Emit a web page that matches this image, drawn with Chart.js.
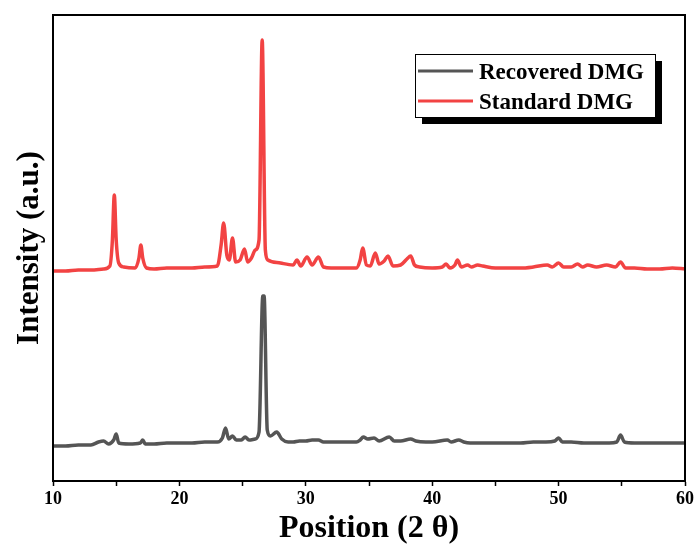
<!DOCTYPE html>
<html>
<head>
<meta charset="utf-8">
<script src="https://cdn.jsdelivr.net/npm/chart.js@4/dist/chart.umd.min.js"></script>
<style>
  html, body { margin: 0; padding: 0; background: #fff; }
  #wrap { width: 697px; height: 548px; }
</style>
</head>
<body>
<div id="wrap"><canvas id="xrd"></canvas></div>
<script>
// XRD patterns, 2θ in degrees vs. intensity (arbitrary units, offset stacked)
const recoveredX = [10, 11, 12, 13, 13.6, 14.0, 14.4, 14.8, 15.0, 15.2, 16, 16.9, 17.1, 17.3, 18, 19, 20, 21, 22, 23,
  23.4, 23.65, 23.9, 24.2, 24.5, 24.9, 25.2, 25.5, 26.0, 26.3, 26.6, 26.7, 26.95, 27.2, 27.7, 28.1, 28.6, 29, 29.5, 30,
  30.5, 31, 31.4, 32, 33, 34, 34.3, 34.55, 34.9, 35.4, 35.8, 36.6, 37, 37.5, 38.3, 38.7, 39.5, 40, 41.2, 41.5,
  42.1, 42.5, 43, 44, 45, 46, 47, 48, 49, 49.7, 50.0, 50.3, 51, 52, 53, 54, 54.6, 54.9, 55.2, 56, 57, 58, 59, 60];
const recoveredY = [35, 35, 36, 36, 39, 40, 37, 41, 47, 38, 37, 38, 41, 37, 37, 38, 38, 38, 39, 39,
  43, 53, 42, 45, 41, 41, 44, 41, 42, 49, 185, 185, 51, 45, 49, 42, 39, 39, 40, 40,
  41, 41, 39, 39, 39, 39, 41, 44, 42, 43, 40, 44, 40, 40, 42, 40, 39, 39, 41, 39,
  41, 39, 38, 38, 38, 38, 38, 39, 39, 40, 43, 39, 39, 38, 38, 38, 39, 46, 39, 38, 38, 38, 38, 38];

const standardX = [10, 11, 12, 13, 14, 14.5, 14.7, 14.85, 15.0, 15.2, 15.6, 16.5, 16.8, 16.95, 17.1, 17.4, 18, 19, 20, 21,
  22, 23.0, 23.3, 23.5, 23.75, 23.95, 24.2, 24.45, 24.8, 25.15, 25.4, 25.7, 26.0, 26.3, 26.55, 26.8, 27.0, 28, 29, 29.3,
  29.6, 30.1, 30.5, 31.0, 31.4, 32, 33, 34, 34.3, 34.5, 34.8, 35.1, 35.5, 35.8, 36.2, 36.5, 36.9, 37.5, 38.0, 38.3,
  38.6, 39, 40, 40.8, 41.1, 41.4, 41.8, 42.0, 42.3, 42.8, 43.1, 43.6, 44.0, 45, 46, 47, 48, 49.1, 49.5, 50.0,
  50.4, 51, 51.5, 51.9, 52.3, 53, 53.8, 54.5, 54.9, 55.3, 56, 57, 58, 59, 60];
const standardY = [210, 210, 211, 211, 212, 215, 241, 286, 241, 218, 214, 213, 223, 236, 223, 213, 212, 213, 213, 213,
  214, 215, 236, 258, 226, 221, 243, 219, 221, 232, 219, 223, 231, 241, 441, 231, 221, 218, 216, 221,
  215, 224, 216, 224, 214, 213, 213, 213, 221, 233, 216, 215, 228, 217, 220, 225, 215, 216, 222, 225,
  216, 214, 213, 214, 217, 213, 216, 221, 214, 216, 214, 216, 215, 213, 213, 213, 214, 216, 214, 218,
  214, 214, 217, 214, 216, 214, 216, 214, 219, 213, 213, 212, 212, 213, 212];

const xTicks = [10, 20, 30, 40, 50, 60];

const serif = "'Liberation Serif', 'Times New Roman', serif";

const toPoints = (xs, ys) => xs.map((x, i) => ({ x, y: ys[i] }));

// full frame around the plot area
const framePlugin = {
  id: 'frame',
  afterDraw(chart) {
    const { ctx, chartArea: a } = chart;
    ctx.save();
    ctx.strokeStyle = '#000';
    ctx.lineWidth = 2;
    ctx.strokeRect(a.left, a.top, a.right - a.left, a.bottom - a.top);
    ctx.restore();
  }
};

// boxed legend with a solid drop shadow, top right
const boxLegendPlugin = {
  id: 'boxLegend',
  afterDraw(chart) {
    const ctx = chart.ctx;
    const x = 415, y = 54, w = 240, h = 63, off = 7;
    ctx.save();
    ctx.fillStyle = '#000';
    ctx.fillRect(x + off, y + off, w, h);
    ctx.fillStyle = '#fff';
    ctx.fillRect(x, y, w, h);
    ctx.strokeStyle = '#000';
    ctx.lineWidth = 1;
    ctx.strokeRect(x + 0.5, y + 0.5, w, h);
    ctx.font = `bold 23px ${serif}`;
    ctx.textBaseline = 'middle';
    chart.data.datasets.forEach((ds, i) => {
      const ly = y + 17 + i * 30;
      ctx.strokeStyle = ds.borderColor;
      ctx.lineWidth = 3;
      ctx.beginPath();
      ctx.moveTo(418, ly);
      ctx.lineTo(473, ly);
      ctx.stroke();
      ctx.fillStyle = '#000';
      ctx.fillText(ds.label, 479, ly + 2);
    });
    ctx.restore();
  }
};

new Chart(document.getElementById('xrd'), {
  type: 'line',
  data: {
    datasets: [
      {
        label: 'Recovered DMG',
        data: toPoints(recoveredX, recoveredY),
        borderColor: '#555555',
        borderWidth: 3.5,
        pointRadius: 0,
        cubicInterpolationMode: 'monotone',
        fill: false
      },
      {
        label: 'Standard DMG',
        data: toPoints(standardX, standardY),
        borderColor: '#f24343',
        borderWidth: 3.5,
        pointRadius: 0,
        cubicInterpolationMode: 'monotone',
        fill: false
      }
    ]
  },
  options: {
    responsive: true,
    maintainAspectRatio: false,
    animation: false,
    layout: { padding: { top: 15, right: 11, left: 11, bottom: 0 } },
    plugins: {
      legend: { display: false },
      tooltip: { enabled: false }
    },
    scales: {
      x: {
        type: 'linear',
        min: 10,
        max: 60,
        afterBuildTicks: (s) => { s.ticks = [10, 15, 20, 25, 30, 35, 40, 45, 50, 55, 60].map(v => ({ value: v })); },
        afterFit: (s) => { s.height = 67; },
        ticks: {
          autoSkip: false,
          maxRotation: 0,
          padding: 3,
          color: '#000',
          font: { family: serif, size: 18, weight: 'bold' },
          callback: (v) => (xTicks.includes(v) ? String(v) : '')
        },
        grid: { drawOnChartArea: false, tickLength: 5, tickColor: '#000', tickWidth: 1.5 },
        border: { color: '#000', width: 2 },
        title: {
          display: true,
          text: 'Position (2 θ)',
          color: '#000',
          font: { family: serif, size: 32, weight: 'bold' },
          padding: { top: 0, bottom: 0 }
        }
      },
      y: {
        min: 0,
        max: 466,
        afterFit: (s) => { s.width = 42; },
        ticks: { display: false },
        grid: { display: false, drawTicks: false },
        border: { color: '#000', width: 2 },
        title: {
          display: true,
          text: 'Intensity (a.u.)',
          color: '#000',
          font: { family: serif, size: 31, weight: 'bold' },
          padding: { top: 0, bottom: 4 }
        }
      }
    }
  },
  plugins: [framePlugin, boxLegendPlugin]
});
</script>
</body>
</html>
